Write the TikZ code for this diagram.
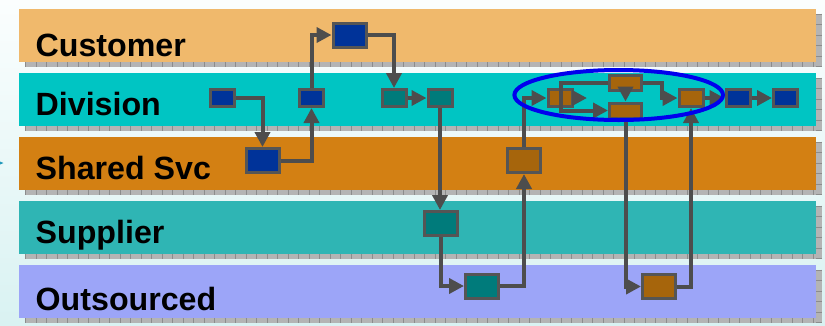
\documentclass[tikz,border=0pt]{standalone}
\usepackage{fontspec}
\setmainfont{Liberation Sans}
\usetikzlibrary{arrows.meta}
\definecolor{custc}{HTML}{F0B96C}
\definecolor{divc}{HTML}{00C5C3}
\definecolor{shc}{HTML}{D38013}
\definecolor{supc}{HTML}{2FB5B4}
\definecolor{outc}{HTML}{9CA5F8}
\definecolor{navy}{HTML}{003399}
\definecolor{tealb}{HTML}{007B7B}
\definecolor{brownb}{HTML}{A6650C}
\definecolor{bordc}{HTML}{555555}
\definecolor{linec}{HTML}{4D4D4D}
\definecolor{ellc}{HTML}{0000EE}
\definecolor{shadc}{HTML}{B4B4B4}
\definecolor{tickc}{HTML}{8C8C8C}
\definecolor{bgtop}{HTML}{FBFEFE}
\definecolor{bgbot}{HTML}{D9F2F2}
\definecolor{markc}{HTML}{2299BB}
\begin{document}
\begin{tikzpicture}[x=1bp,y=-1bp,
  lanetext/.style={anchor=base west,inner sep=0pt,font=\bfseries\fontsize{32.3}{32}\selectfont},
  box/.style={draw=bordc,line width=3bp,inner sep=0pt},
  small/.style={minimum width=24bp,minimum height=17bp},
  big/.style={minimum width=33bp,minimum height=24bp},
  flat/.style={minimum width=32bp,minimum height=15bp},
  conn/.style={draw=linec,line width=4bp,-{Triangle[length=15bp,width=15bp]}},
  shadowstrip/.style={fill=shadc},
  ticks/.style={draw=tickc,dash pattern=on 0.8bp off 9.7bp}
]
\useasboundingbox (0,0) rectangle (825,325);
\shade[top color=bgtop,bottom color=bgbot] (0,0) rectangle (825,325);
\fill[markc] (0,161.5) -- (3.5,163) -- (0,164.5) -- cycle;
% lanes with shadows
\foreach \t/\c in {9/custc,73/divc,137/shc,201/supc,265/outc}{
  \fill[shadowstrip] (25,\t+4.5) rectangle (822,\t+58);
  \draw[ticks,line width=5bp] (25,\t+55.5) -- (822,\t+55.5);
  \draw[ticks,line width=6bp] (819,\t+4.5) -- (819,\t+58);
  \fill[\c] (19,\t) rectangle (816,\t+53);
}
\node[lanetext] (tcust) at (35.5,56) {Customer};
\node[lanetext] (tdiv) at (35.5,115.5) {Division};
\node[lanetext] (tsh) at (35.5,179) {Shared Svc};
\node[lanetext] (tsup) at (35.5,243) {Supplier};
\node[lanetext] (tout) at (35.5,310.5) {Outsourced};
% activity boxes
\node[box,small,fill=navy] (D1) at (222.5,98) {};
\node[box,small,fill=navy] (D2) at (311.5,98) {};
\node[box,big,fill=navy] (C1) at (349.5,35) {};
\node[box,big,fill=navy] (S1) at (262.5,160.5) {};
\node[box,small,fill=tealb] (D3) at (394,98) {};
\node[box,small,fill=tealb] (D4) at (440,98) {};
\node[box,big,fill=tealb] (T1) at (441,223.5) {};
\node[box,big,fill=tealb] (O1) at (482,286) {};
\node[box,big,fill=brownb] (S2) at (524,160.5) {};
\node[box,small,fill=brownb] (E1) at (560,98) {};
\node[box,flat,fill=brownb] (E2) at (625.5,83) {};
\node[box,flat,fill=brownb] (E3) at (625.5,110.5) {};
\node[box,small,fill=brownb] (E4) at (691,98) {};
\node[box,small,fill=navy] (B1) at (738,98) {};
\node[box,small,fill=navy] (B2) at (785.5,98) {};
\node[box,big,fill=brownb] (O2) at (659,286.5) {};
\coordinate (stub) at (587,98);
\coordinate (split) at (561,98);
\coordinate (k1) at (662,83);
% connectors
\draw[conn] (D1.east) -| (S1.north);
\draw[conn] (S1.east) -| (D2.south);
\draw[conn] (D2.north) |- (C1.west);
\draw[conn] (C1.east) -| (D3.north);
\draw[conn] (D3.east) -- (D4.west);
\draw[conn] (D4.south) -- (D4.south |- T1.north);
\draw[conn] (T1.south) |- (O1.west);
\draw[conn] (O1.east) -| (S2.south);
\draw[conn] (S2.north) |- (E1.west);
\draw[conn] (E1.east) -- (stub);
\draw[conn] (E2.west) -| (split) |- (E3.west);
\draw[conn] (E2.south) -- (E3.north);
\draw[conn] (E2.east) -- (k1) |- (E4.west);
\draw[conn] (E4.east) -- (B1.west);
\draw[conn] (B1.east) -- (B2.west);
\draw[conn] (E3.south) |- (O2.west);
\draw[conn] (O2.east) -| (E4.south);
% highlight
\draw[ellc,line width=4bp] (618.7,95) ellipse [x radius=104.3bp,y radius=25bp];
\end{tikzpicture}
\end{document}
